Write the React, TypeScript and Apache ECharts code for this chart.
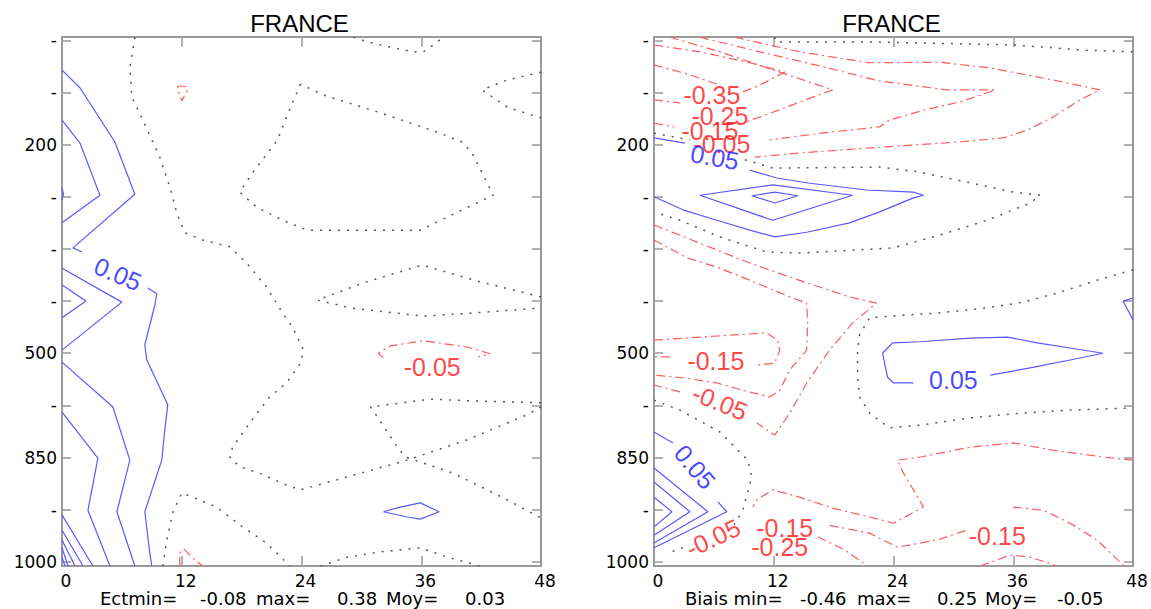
import React, { useEffect, useRef } from "react";
import * as echarts from "echarts";

// ---- axes ----
const hourTicks = [0, 12, 24, 36, 48];
const levelIndex = [0, 1, 2, 3, 4, 5, 6, 7, 8, 9, 10];
const levelLabels = ["-", "-", "200", "-", "-", "-", "500", "-", "850", "-", "1000"];
const panelTitles = ["FRANCE", "FRANCE"];
const statNames = ["Ectmin=", "Biais min="];
const statValues = [
  [-0.08, 0.38, 0.03],
  [-0.46, 0.25, -0.05],
];

// ---- left panel (Ect) contours: [hour, level index] ----
const leftPositive = [
  [[0, 0.57], [1.8, 0.91], [5.3, 1.95], [7.3, 2.95], [1.1, 3.98], [2.0, 4.06]],
  [[8.6, 4.75], [9.5, 4.86], [9.3, 5.08], [8.3, 5.84], [8.5, 6.13], [10.6, 6.99], [10.3, 7.47], [10.0, 8.05], [8.3, 9.04], [8.8, 9.83], [9.0, 10.08]],
  [[0, 1.53], [1.8, 1.97], [3.8, 2.97], [0, 3.5]],
  [[0, 2.83], [0.15, 2.95], [0, 3.06]],
  [[0, 4.37], [6.0, 5.02], [0, 5.94]],
  [[0, 4.69], [2.4, 5.0], [0, 5.32]],
  [[0, 6.17], [5.1, 7.03], [6.8, 8.05], [5.5, 9.04], [7.3, 10.08]],
  [[0, 7.13], [3.6, 8.01], [2.6, 9.01], [4.8, 10.08]],
  [[0, 9.1], [3.1, 10.08]],
  [[0, 9.39], [2.1, 10.08]],
  [[0, 9.58], [1.3, 10.08]],
  [[0, 9.73], [0.6, 10.08]],
  [[0, 9.91], [0.3, 10.08]],
  [[32.2, 9.04], [33.9, 8.95], [35.9, 8.87], [37.8, 9.04], [35.9, 9.18], [34.6, 9.14], [32.2, 9.04]],
];
const leftZero = [
  [[7.3, -0.06], [7.1, 0.19], [6.8, 0.51], [7.0, 1.09], [8.1, 1.53], [9.8, 2.24], [10.8, 2.81], [11.5, 3.31], [12.3, 3.69], [14.1, 3.83], [16.8, 3.96], [18.5, 4.27], [20.5, 4.73], [22.1, 5.23], [23.1, 5.5], [24.2, 5.94], [23.9, 6.19], [22.5, 6.57], [20.8, 6.84], [18.8, 7.34], [17.1, 7.8], [16.8, 7.99], [17.8, 8.18], [19.8, 8.3], [22.5, 8.53], [23.9, 8.62], [28.6, 8.37], [34.6, 8.05], [40.6, 7.66], [46.6, 7.18], [48, 7.03]],
  [[29.2, -0.06], [30.6, 0.03], [32.9, 0.13], [35.2, 0.22], [36.2, 0.22], [37.2, 0.09], [38.2, -0.06]],
  [[23.9, 0.84], [22.5, 1.47], [21.6, 1.91], [19.1, 2.54], [17.8, 2.91], [19.5, 3.2], [22.1, 3.45], [24.6, 3.64], [35.9, 3.64], [38.6, 3.39], [42.2, 3.06], [43.2, 2.97], [42.7, 2.77], [41.1, 2.16], [40.1, 1.95], [37.6, 1.76], [31.9, 1.39], [26.2, 1.05], [23.9, 0.84]],
  [[48, 0.61], [44.6, 0.76], [42.1, 0.95], [44.6, 1.28], [48, 1.49]],
  [[48, 4.92], [41.9, 4.63], [36.1, 4.31], [30.2, 4.65], [25.6, 4.98], [28.9, 5.13], [36.2, 5.29], [42.6, 5.21], [48, 5.13]],
  [[48, 6.95], [41.9, 6.92], [36.9, 6.88], [30.9, 7.03], [31.6, 7.22], [33.6, 7.8], [34.4, 7.99], [39.2, 8.3], [44.6, 8.81], [48, 9.16]],
  [[10.1, 10.08], [10.5, 9.58], [11.1, 9.06], [12.0, 8.68], [13.1, 8.76], [15.5, 8.95], [18.1, 9.33], [20.5, 9.64], [22.5, 10.02], [22.8, 10.08]],
  [[25.9, 10.08], [28.6, 9.91], [31.9, 9.81], [35.9, 9.73], [38.6, 9.91], [41.9, 10.08]],
];
const leftNegative = [
  [[11.6, 0.88], [12.4, 0.88], [12.6, 0.95], [12.0, 1.16], [11.6, 0.95], [11.6, 0.88]],
  [[32.2, 6.09], [31.7, 6.0], [32.9, 5.86], [36.2, 5.76], [40.6, 5.88], [42.9, 6.01], [41.7, 6.07]],
  [[11.8, 10.08], [11.8, 9.83], [12.2, 9.75], [13.1, 9.93], [14.1, 10.08]],
];
const leftLabels = [
  { x: 5.6, y: 4.48, text: "0.05", angle: -23 },
  { x: 37.1, y: 6.26, text: "-0.05", angle: 0 },
];

// ---- right panel (Biais) contours ----
const rightPositive = [
  [[0, 1.87], [3.1, 1.97]],
  [[9.6, 2.49], [12.3, 2.64], [15.6, 2.74], [21.3, 2.87], [26.0, 2.91], [27.0, 2.97], [26.0, 3.02], [22.6, 3.29], [19.6, 3.5], [15.3, 3.68], [12.1, 3.77], [9.6, 3.64], [6.3, 3.45], [2.9, 3.25], [0, 3.0]],
  [[4.6, 2.97], [11.9, 2.77], [19.9, 2.97], [11.9, 3.45], [4.6, 2.97]],
  [[9.8, 2.98], [12.1, 2.91], [14.4, 2.98], [12.1, 3.12], [9.8, 2.98]],
  [[33.7, 6.42], [37.7, 6.28], [41.7, 6.13], [45.0, 6.0], [41.7, 5.9], [38.4, 5.8], [35.4, 5.69], [31.7, 5.71], [26.7, 5.78], [23.9, 5.8], [22.9, 6.0], [23.4, 6.46], [24.0, 6.57], [26.0, 6.57]],
  [[48, 4.94], [47.0, 5.0], [48, 5.36]],
  [[0, 7.51], [1.9, 7.72]],
  [[6.4, 8.85], [7.3, 9.04], [0, 9.73]],
  [[0, 8.2], [5.4, 9.04], [0, 9.64]],
  [[0, 8.47], [3.6, 9.04], [0, 9.49]],
  [[0, 8.76], [1.8, 9.04], [0, 9.33]],
];
const rightZero = [
  [[12.1, -0.06], [12.2, 0.03], [14.6, 0.03], [21.6, 0.03], [31.7, 0.07], [36.0, 0.09], [43.4, 0.19], [48, 0.22]],
  [[0, 1.78], [3.6, 1.91]],
  [[9.1, 2.29], [11.9, 2.45], [22.6, 2.43], [26.4, 2.52], [31.4, 2.72], [36.0, 2.91], [38.7, 2.97], [37.7, 3.12], [33.4, 3.45], [28.7, 3.73], [24.0, 3.98], [14.6, 4.08], [11.3, 4.06], [6.6, 3.77], [2.6, 3.45], [0, 3.29]],
  [[48, 4.4], [44.4, 4.6], [40.7, 4.83], [37.0, 5.02], [33.4, 5.13], [28.4, 5.23], [25.0, 5.27], [21.6, 5.32], [20.6, 5.65], [20.4, 5.94], [20.4, 6.46], [20.6, 6.84], [21.6, 7.15], [23.6, 7.43], [26.7, 7.38], [31.7, 7.24], [36.7, 7.15], [41.7, 7.09], [48, 7.05]],
  [[0, 6.9], [2.6, 7.09], [6.6, 7.51], [9.4, 8.05], [9.8, 8.37], [8.9, 9.01], [7.9, 9.33]],
  [[2.9, 9.73], [1.4, 9.83]],
];
const rightNegative = [
  [[8.1, -0.06], [14.6, 0.22], [21.6, 0.43], [28.7, 0.42], [33.7, 0.53], [40.0, 0.76], [44.7, 0.95], [42.7, 1.14], [40.0, 1.47], [37.4, 1.72], [35.0, 1.87], [30.4, 1.95], [22.6, 2.05], [14.6, 2.16], [10.1, 2.24]],
  [[4.6, -0.06], [10.6, 0.22], [16.6, 0.49], [22.6, 0.78], [29.4, 0.95], [34.2, 0.95], [32.7, 1.05], [30.7, 1.18], [27.0, 1.34], [23.6, 1.53], [22.6, 1.66], [17.6, 1.76], [11.6, 1.91]],
  [[1.6, -0.06], [6.6, 0.22], [12.6, 0.61], [17.9, 0.95], [15.9, 1.09], [13.3, 1.28], [10.6, 1.47], [9.1, 1.57]],
  [[0, 0.09], [4.6, 0.22], [9.6, 0.43], [13.1, 0.61], [10.6, 0.86], [8.1, 1.05]],
  [[0, 0.47], [3.6, 0.66], [6.6, 0.86]],
  [[0, 1.14], [2.6, 1.2]],
  [[0, 1.59], [2.0, 1.66]],
  [[0, 5.75], [6.3, 5.67], [11.3, 5.61], [12.4, 5.75], [12.6, 5.94], [12.1, 6.19], [10.3, 6.23]],
  [[1.6, 6.07], [0, 6.07]],
  [[0, 3.83], [3.3, 4.17], [6.3, 4.35], [9.6, 4.6], [13.6, 4.92], [15.3, 5.04], [15.4, 5.42], [15.3, 5.94], [13.6, 6.32], [12.6, 6.71], [11.6, 6.84], [8.9, 6.71], [6.3, 6.57], [2.9, 6.47], [0, 6.42]],
  [[0, 3.54], [6.3, 4.02], [9.6, 4.27], [15.3, 4.65], [19.6, 4.92], [22.3, 5.04], [19.9, 5.42], [17.6, 5.94], [15.3, 6.57], [13.6, 7.15], [12.1, 7.57], [10.3, 7.34]],
  [[2.6, 6.74], [0, 6.61]],
  [[48, 8.05], [45.0, 7.99], [40.0, 7.86], [36.0, 7.72], [31.7, 7.8], [26.7, 7.99], [24.4, 8.05], [25.0, 8.3], [26.0, 8.62], [27.0, 8.95], [24.0, 9.26], [21.6, 9.14], [17.9, 8.97], [14.6, 8.76], [11.9, 8.62], [10.3, 8.81], [9.9, 8.95]],
  [[17.6, 9.3], [21.6, 9.45], [24.4, 9.72], [28.4, 9.58], [31.4, 9.39]],
  [[36.0, 8.95], [39.0, 9.01], [41.7, 9.26], [44.4, 9.58], [47.1, 10.08]],
  [[32.7, 10.08], [35.7, 9.87], [37.7, 9.91], [40.4, 10.08]],
  [[16.4, 9.52], [19.1, 9.77], [21.4, 10.08]],
];
const rightLabels = [
  { x: 5.8, y: 1.05, text: "-0.35", angle: 0 },
  { x: 6.6, y: 1.45, text: "-0.25", angle: 0 },
  { x: 5.6, y: 1.74, text: "-0.15", angle: 0 },
  { x: 6.8, y: 1.99, text: "-0.05", angle: 0 },
  { x: 6.1, y: 2.24, text: "0.05", angle: -10 },
  { x: 6.2, y: 6.15, text: "-0.15", angle: 0 },
  { x: 6.6, y: 6.94, text: "-0.05", angle: -22 },
  { x: 30.0, y: 6.51, text: "0.05", angle: 0 },
  { x: 4.1, y: 8.18, text: "0.05", angle: -50 },
  { x: 5.9, y: 9.54, text: "-0.05", angle: 25 },
  { x: 13.1, y: 9.35, text: "-0.15", angle: 0 },
  { x: 12.6, y: 9.72, text: "-0.25", angle: 0 },
  { x: 34.4, y: 9.5, text: "-0.15", angle: 0 },
];

// ---- layout / styles ----
const PANEL_LEFT = [62, 654];
const PANEL_TOP = 37;
const PANEL_W = 479;
const PANEL_H = 529;
const FRAME = "#9a9a9a";
const TICK_FONT = "DejaVu Sans";
const LABEL_FONT = "Liberation Sans";

const lineStyles: any = {
  pos: { color: "#5858ff", width: 1.2, type: "solid" },
  zero: { color: "#555555", width: 1.5, type: [2, 7] },
  neg: { color: "#ff5a5a", width: 1.2, type: [9, 4, 2, 4] },
};

function lineSeries(lines: number[][][], kind: string, xi: number, yi: number) {
  return lines.map((pts) => ({
    type: "line",
    xAxisIndex: xi,
    yAxisIndex: yi,
    data: pts,
    symbol: "none",
    showSymbol: false,
    silent: true,
    z: 2,
    lineStyle: lineStyles[kind],
  }));
}

function labelSeries(labels: any[], xi: number, yi: number) {
  return {
    type: "scatter",
    xAxisIndex: xi,
    yAxisIndex: yi,
    symbolSize: 0,
    silent: true,
    z: 5,
    label: {
      show: true,
      position: "inside",
      formatter: "{b}",
      fontSize: 25,
      fontFamily: LABEL_FONT,
    },
    data: labels.map((l) => ({
      value: [l.x, l.y],
      name: l.text,
      label: { rotate: l.angle, color: l.text.startsWith("-") ? "#ff1414" : "#1818ff" },
    })),
  };
}

function makeAxes(g: number) {
  const lineS = { show: true, onZero: false, lineStyle: { color: FRAME, width: 2 } };
  const tickS = { color: FRAME, width: 1.5 };
  const x = [
    {
      gridIndex: g, type: "value", min: hourTicks[0], max: hourTicks[hourTicks.length - 1], interval: 12,
      position: "bottom", axisLine: lineS,
      axisTick: { show: true, inside: true, length: 10, lineStyle: tickS },
      axisLabel: { show: true, fontSize: 17, color: "#000", fontFamily: TICK_FONT, margin: 6, padding: [0, 0, 0, 8] },
      splitLine: { show: false },
    },
    {
      gridIndex: g, type: "value", min: hourTicks[0], max: hourTicks[hourTicks.length - 1], interval: 12,
      position: "top", axisLine: lineS,
      axisTick: { show: true, inside: true, length: 10, lineStyle: tickS },
      axisLabel: { show: false }, splitLine: { show: false },
    },
  ];
  const y = [
    {
      gridIndex: g, type: "value", inverse: true, min: -0.064, max: 10.08, position: "left",
      axisLine: lineS,
      axisTick: { show: true, inside: true, length: 9, customValues: levelIndex, lineStyle: tickS },
      axisLabel: {
        show: true, customValues: levelIndex, margin: 5, fontSize: 17, color: "#000", fontFamily: TICK_FONT,
        formatter: (v: number) => levelLabels[Math.round(v)] ?? "",
      },
      splitLine: { show: false },
    },
    {
      gridIndex: g, type: "value", inverse: true, min: -0.064, max: 10.08, position: "right",
      axisLine: lineS,
      axisTick: { show: true, inside: true, length: 9, customValues: levelIndex, lineStyle: tickS },
      axisLabel: { show: false }, splitLine: { show: false },
    },
  ];
  return { x, y };
}

const statX = [
  [100, 200, 256, 337, 386, 465],
  [685, 800, 857, 937, 985, 1057],
];

function fmt(v: number) {
  return v.toFixed(2);
}

function statTexts(i: number) {
  const v = statValues[i];
  const parts = [statNames[i], fmt(v[0]), "max=", fmt(v[1]), "Moy=", fmt(v[2])];
  return parts.map((t, k) => ({
    type: "text",
    x: statX[i][k],
    y: 598,
    silent: true,
    style: { text: t, fontSize: 18, fontFamily: TICK_FONT, fill: "#000", textAlign: "left", textVerticalAlign: "middle" },
  }));
}

export default function App() {
  const ref = useRef<HTMLDivElement>(null);
  useEffect(() => {
    const chart = echarts.init(ref.current!, null, { renderer: "svg" });
    const a0 = makeAxes(0);
    const a1 = makeAxes(1);
    const option: any = {
      animation: false,
      backgroundColor: "#ffffff",
      grid: PANEL_LEFT.map((l) => ({
        left: l, top: PANEL_TOP, width: PANEL_W, height: PANEL_H, containLabel: false, outerBoundsMode: "none",
      })),
      xAxis: [...a0.x, ...a1.x],
      yAxis: [...a0.y, ...a1.y],
      series: [
        ...lineSeries(leftZero, "zero", 0, 0),
        ...lineSeries(leftPositive, "pos", 0, 0),
        ...lineSeries(leftNegative, "neg", 0, 0),
        labelSeries(leftLabels, 0, 0),
        ...lineSeries(rightZero, "zero", 2, 2),
        ...lineSeries(rightPositive, "pos", 2, 2),
        ...lineSeries(rightNegative, "neg", 2, 2),
        labelSeries(rightLabels, 2, 2),
      ],
      graphic: [
        ...panelTitles.map((t, i) => ({
          type: "text",
          x: PANEL_LEFT[i] + PANEL_W / 2 - 2,
          y: 23,
          silent: true,
          style: { text: t, fontSize: 24, fontFamily: "Liberation Sans", fill: "#000", textAlign: "center", textVerticalAlign: "middle" },
        })),
        ...statTexts(0),
        ...statTexts(1),
      ],
    };
    chart.setOption(option);
    return () => chart.dispose();
  }, []);
  return (
    <div
      ref={ref}
      style={{ position: "absolute", left: 0, top: 0, width: 1151, height: 609, background: "#fff" }}
    />
  );
}
